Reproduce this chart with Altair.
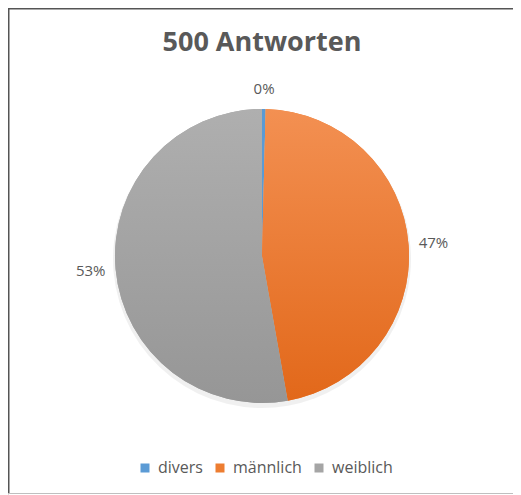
import math
import altair as alt
import pandas as pd

# ---- data ----
categories = ["divers", "männlich", "weiblich"]
counts = [2, 234, 264]
flat_colors = ["#5B9BD5", "#ED7D31", "#A5A5A5"]
grad_top = {"männlich": "#F39052", "weiblich": "#AFAFAF"}
grad_bottom = {"männlich": "#E2681A", "weiblich": "#969696"}
title_text = "500 Antworten"

df = pd.DataFrame({"cat": categories, "n": counts, "order": list(range(len(categories)))})

W, H = 505, 487
CX, CY = 254, 248
R = 147
FONT = "Open Sans"
GREY = "#595959"

base = (
    alt.Chart(df)
    .transform_window(cum="sum(n)", sort=[alt.SortField("order")], frame=[None, 0])
    .transform_joinaggregate(total="sum(n)")
    .transform_calculate(
        t0="(datum.cum - datum.n) / datum.total",
        t1="datum.cum / datum.total",
        tm="(datum.cum - datum.n / 2) / datum.total",
        label="format(datum.n / datum.total, '.0%')",
        rad="167 + 5 * abs(sin(2 * PI * (datum.cum - datum.n / 2) / datum.total))",
    )
)

theta_scale = alt.Scale(domain=[0, 1], range=[0, 2 * math.pi])
pos = dict(x=alt.value(CX), y=alt.value(CY))

shadow = base.mark_arc(outerRadius=R + 2, fill="#000000", opacity=0.06).encode(
    theta=alt.Theta("t0:Q", scale=theta_scale),
    theta2="t1:Q",
    x=alt.value(CX),
    y=alt.value(CY + 3),
)

pie = base.mark_arc(outerRadius=R).encode(
    theta=alt.Theta("t0:Q", scale=theta_scale),
    theta2="t1:Q",
    color=alt.Color(
        "cat:N",
        scale=alt.Scale(domain=categories, range=flat_colors),
        legend=alt.Legend(
            title=None,
            orient="none",
            legendX=129,
            legendY=452,
            direction="horizontal",
            columns=3,
            symbolType="square",
            symbolSize=81,
            symbolStrokeWidth=0,
            labelFont=FONT,
            labelFontSize=16,
            labelColor=GREY,
            labelOffset=5,
            columnPadding=9,
        ),
    ),
    **pos,
)


def gradient_layer(cat):
    return base.transform_filter(alt.datum.cat == cat).mark_arc(
        outerRadius=R,
        fill=alt.LinearGradient(
            gradient="linear",
            stops=[
                alt.GradientStop(color=grad_top[cat], offset=0),
                alt.GradientStop(color=grad_bottom[cat], offset=1),
            ],
            x1=0, x2=0, y1=0, y2=1,
        ),
    ).encode(
        theta=alt.Theta("t0:Q", scale=theta_scale),
        theta2="t1:Q",
        **pos,
    )


labels = base.mark_text(font=FONT, fontSize=15, color=GREY, baseline="middle", align="center").encode(
    theta=alt.Theta("tm:Q", scale=theta_scale),
    radius=alt.Radius("rad:Q", scale=None),
    text="label:N",
    **pos,
)

title = alt.Chart(pd.DataFrame({"t": [title_text]})).mark_text(
    font=FONT, fontSize=27, fontWeight="bold", color=GREY, align="center", baseline="alphabetic"
).encode(text="t:N", x=alt.value(254), y=alt.value(43))

frame_df = pd.DataFrame({"k": [0]})
top_line = alt.Chart(frame_df).mark_rule(color="#555555", strokeWidth=1.5).encode(
    x=alt.value(0), x2=alt.value(W), y=alt.value(0.75)
)
left_line = alt.Chart(frame_df).mark_rule(color="#555555", strokeWidth=1.5).encode(
    x=alt.value(0.75), y=alt.value(0), y2=alt.value(486)
)
bottom_line = alt.Chart(frame_df).mark_rule(color="#BFBFBF", strokeWidth=1).encode(
    x=alt.value(0), x2=alt.value(W), y=alt.value(485.5)
)

chart = (
    alt.layer(
        shadow, pie, gradient_layer("männlich"), gradient_layer("weiblich"),
        labels, title, top_line, left_line, bottom_line,
    )
    .properties(width=W, height=H, autosize=alt.AutoSizeParams(type="none"), padding=0)
    .configure_view(stroke=None)
    .configure(background="white")
)

chart.save("out.html", embed_options={"renderer": "svg", "actions": False})
